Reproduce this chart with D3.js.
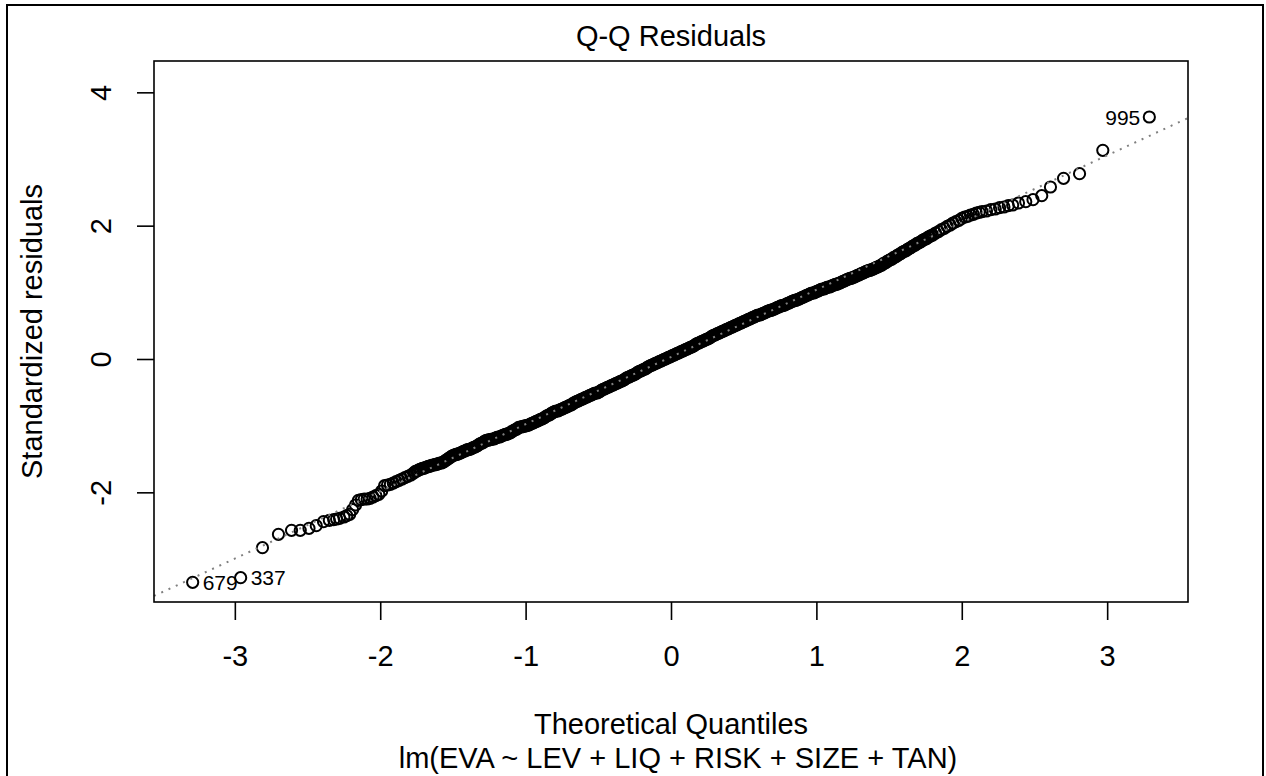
<!DOCTYPE html>
<html>
<head>
<meta charset="utf-8">
<script src="https://cdn.jsdelivr.net/npm/d3@7"></script>
<style>
  body { margin: 0; background: #fff; }
  text { font-family: 'Liberation Sans', Arial, sans-serif; fill: #000; }
</style>
</head>
<body>
<div id="chart"></div>
<script>
// [theoretical quantile, standardized residual]
const lowerTail = [
  [-3.29,-3.35],[-2.96,-3.28],[-2.81,-2.83],[-2.70,-2.63],[-2.61,-2.57],[-2.55,-2.57],[-2.49,-2.54],
  [-2.44,-2.50],[-2.39,-2.44],[-2.35,-2.42],[-2.32,-2.41],[-2.30,-2.40],[-2.28,-2.39],[-2.25,-2.37],
  [-2.23,-2.35],[-2.21,-2.33],[-2.19,-2.26],[-2.17,-2.19],[-2.15,-2.12],[-2.13,-2.11],[-2.11,-2.10],
  [-2.09,-2.10],[-2.07,-2.09],[-2.05,-2.07],[-2.03,-2.05],[-2.01,-2.03],[-1.99,-1.98],[-1.97,-1.90],
  [-1.95,-1.89],[-1.93,-1.88],[-1.91,-1.86],[-1.89,-1.84],[-1.87,-1.82],[-1.85,-1.80],[-1.83,-1.78],
  [-1.81,-1.76],[-1.79,-1.74],[-1.77,-1.71]
]

const middle = [
  [-1.76,-1.69],[-1.75,-1.68],[-1.74,-1.67],[-1.73,-1.66],[-1.72,-1.65],[-1.71,-1.64],[-1.70,-1.64],
  [-1.69,-1.63],[-1.68,-1.62],[-1.67,-1.61],[-1.66,-1.61],[-1.65,-1.60],[-1.64,-1.59],[-1.63,-1.59],
  [-1.62,-1.58],[-1.61,-1.58],[-1.60,-1.57],[-1.59,-1.56],[-1.58,-1.56],[-1.57,-1.55],[-1.56,-1.54],
  [-1.55,-1.52],[-1.54,-1.51],[-1.53,-1.49],[-1.52,-1.48],[-1.51,-1.46],[-1.50,-1.45],[-1.49,-1.44],
  [-1.48,-1.43],[-1.47,-1.43],[-1.46,-1.42],[-1.45,-1.41],[-1.44,-1.40],[-1.43,-1.39],[-1.42,-1.38],
  [-1.41,-1.37],[-1.40,-1.36],[-1.39,-1.36],[-1.38,-1.35],[-1.37,-1.34],[-1.36,-1.33],[-1.35,-1.32],
  [-1.34,-1.31],[-1.33,-1.30],[-1.32,-1.28],[-1.31,-1.27],[-1.30,-1.26],[-1.29,-1.25],[-1.28,-1.23],
  [-1.27,-1.22],[-1.26,-1.22],[-1.25,-1.21],[-1.24,-1.21],[-1.23,-1.20],[-1.22,-1.20],[-1.21,-1.19],
  [-1.20,-1.18],[-1.19,-1.17],[-1.18,-1.17],[-1.17,-1.16],[-1.16,-1.15],[-1.15,-1.14],[-1.14,-1.13],
  [-1.13,-1.13],[-1.12,-1.12],[-1.11,-1.11],[-1.10,-1.10],[-1.09,-1.08],[-1.08,-1.07],[-1.07,-1.06],
  [-1.06,-1.05],[-1.05,-1.03],[-1.04,-1.02],[-1.03,-1.02],[-1.02,-1.01],[-1.01,-1.01],[-1.00,-1.00],
  [-0.99,-1.00],[-0.98,-0.99],[-0.97,-0.98],[-0.96,-0.97],[-0.95,-0.96],[-0.94,-0.95],[-0.93,-0.94],
  [-0.92,-0.93],[-0.91,-0.92],[-0.90,-0.91],[-0.89,-0.90],[-0.88,-0.89],[-0.87,-0.88],[-0.86,-0.86],
  [-0.85,-0.85],[-0.84,-0.84],[-0.83,-0.83],[-0.82,-0.81],[-0.81,-0.80],[-0.80,-0.79],[-0.79,-0.78],
  [-0.78,-0.78],[-0.77,-0.77],[-0.76,-0.76],[-0.75,-0.75],[-0.74,-0.74],[-0.73,-0.73],[-0.72,-0.72],
  [-0.71,-0.71],[-0.70,-0.70],[-0.69,-0.69],[-0.68,-0.68],[-0.67,-0.66],[-0.66,-0.65],[-0.65,-0.64],
  [-0.64,-0.63],[-0.63,-0.62],[-0.62,-0.61],[-0.61,-0.60],[-0.60,-0.59],[-0.59,-0.58],[-0.58,-0.57],
  [-0.57,-0.56],[-0.56,-0.55],[-0.55,-0.54],[-0.54,-0.53],[-0.53,-0.52],[-0.52,-0.51],[-0.51,-0.51],
  [-0.50,-0.50],[-0.49,-0.49],[-0.48,-0.47],[-0.47,-0.46],[-0.46,-0.45],[-0.45,-0.44],[-0.44,-0.43],
  [-0.43,-0.42],[-0.42,-0.41],[-0.41,-0.40],[-0.40,-0.39],[-0.39,-0.38],[-0.38,-0.37],[-0.37,-0.36],
  [-0.36,-0.35],[-0.35,-0.34],[-0.34,-0.33],[-0.33,-0.32],[-0.32,-0.31],[-0.31,-0.29],[-0.30,-0.28],
  [-0.29,-0.27],[-0.28,-0.26],[-0.27,-0.25],[-0.26,-0.24],[-0.25,-0.23],[-0.24,-0.22],[-0.23,-0.20],
  [-0.22,-0.19],[-0.21,-0.18],[-0.20,-0.17],[-0.19,-0.16],[-0.18,-0.15],[-0.17,-0.14],[-0.16,-0.12],
  [-0.15,-0.11],[-0.14,-0.10],[-0.13,-0.09],[-0.12,-0.08],[-0.11,-0.07],[-0.10,-0.06],[-0.09,-0.05],
  [-0.08,-0.04],[-0.07,-0.03],[-0.06,-0.02],[-0.05,-0.01],[-0.04,0.00],[-0.03,0.01],[-0.02,0.02],
  [-0.01,0.03],[0.00,0.04],[0.01,0.05],[0.02,0.06],[0.03,0.07],[0.04,0.08],[0.05,0.09],
  [0.06,0.10],[0.07,0.11],[0.08,0.12],[0.09,0.13],[0.10,0.14],[0.11,0.15],[0.12,0.16],
  [0.13,0.17],[0.14,0.18],[0.15,0.19],[0.16,0.20],[0.17,0.22],[0.18,0.23],[0.19,0.24],
  [0.20,0.25],[0.21,0.26],[0.22,0.27],[0.23,0.28],[0.24,0.29],[0.25,0.30],[0.26,0.31],
  [0.27,0.32],[0.28,0.34],[0.29,0.35],[0.30,0.36],[0.31,0.37],[0.32,0.38],[0.33,0.39],
  [0.34,0.40],[0.35,0.41],[0.36,0.42],[0.37,0.43],[0.38,0.44],[0.39,0.45],[0.40,0.46],
  [0.41,0.47],[0.42,0.48],[0.43,0.49],[0.44,0.50],[0.45,0.51],[0.46,0.52],[0.47,0.53],
  [0.48,0.54],[0.49,0.55],[0.50,0.56],[0.51,0.57],[0.52,0.58],[0.53,0.59],[0.54,0.60],
  [0.55,0.61],[0.56,0.62],[0.57,0.63],[0.58,0.64],[0.59,0.65],[0.60,0.66],[0.61,0.66],
  [0.62,0.67],[0.63,0.68],[0.64,0.69],[0.65,0.70],[0.66,0.71],[0.67,0.72],[0.68,0.73],
  [0.69,0.73],[0.70,0.74],[0.71,0.75],[0.72,0.76],[0.73,0.77],[0.74,0.78],[0.75,0.79],
  [0.76,0.80],[0.77,0.80],[0.78,0.81],[0.79,0.82],[0.80,0.83],[0.81,0.84],[0.82,0.85],
  [0.83,0.86],[0.84,0.87],[0.85,0.88],[0.86,0.88],[0.87,0.89],[0.88,0.90],[0.89,0.91],
  [0.90,0.92],[0.91,0.93],[0.92,0.94],[0.93,0.95],[0.94,0.96],[0.95,0.97],[0.96,0.98],
  [0.97,0.99],[0.98,0.99],[0.99,1.00],[1.00,1.01],[1.01,1.02],[1.02,1.03],[1.03,1.04],
  [1.04,1.05],[1.05,1.05],[1.06,1.06],[1.07,1.07],[1.08,1.08],[1.09,1.08],[1.10,1.09],
  [1.11,1.10],[1.12,1.11],[1.13,1.12],[1.14,1.12],[1.15,1.13],[1.16,1.14],[1.17,1.15],
  [1.18,1.16],[1.19,1.17],[1.20,1.18],[1.21,1.19],[1.22,1.20],[1.23,1.21],[1.24,1.21],
  [1.25,1.22],[1.26,1.23],[1.27,1.24],[1.28,1.25],[1.29,1.26],[1.30,1.27],[1.31,1.28],
  [1.32,1.29],[1.33,1.30],[1.34,1.31],[1.35,1.32],[1.36,1.33],[1.37,1.33],[1.38,1.34],
  [1.39,1.35],[1.40,1.36],[1.41,1.37],[1.42,1.38],[1.43,1.39],[1.44,1.40],[1.45,1.41],
  [1.46,1.43],[1.47,1.44],[1.48,1.45],[1.49,1.47],[1.50,1.48],[1.51,1.49],[1.52,1.50],
  [1.53,1.52],[1.54,1.53],[1.55,1.54],[1.56,1.56],[1.57,1.57],[1.58,1.58],[1.59,1.60],
  [1.60,1.61],[1.61,1.62],[1.62,1.63],[1.63,1.65],[1.64,1.66],[1.65,1.67],[1.66,1.69],
  [1.67,1.70],[1.68,1.71],[1.69,1.73],[1.70,1.74],[1.71,1.75],[1.72,1.76],[1.73,1.78],
  [1.74,1.79],[1.75,1.80],[1.76,1.81],[1.77,1.83],[1.78,1.84],[1.79,1.85],[1.80,1.86]
]

const upperTail = [
  [1.82,1.89],[1.84,1.91],[1.86,1.94],[1.88,1.96],[1.90,1.99],[1.92,2.01],[1.94,2.04],[1.96,2.06],
  [1.98,2.08],[2.00,2.11],[2.02,2.13],[2.04,2.14],[2.06,2.16],[2.08,2.17],[2.10,2.19],[2.12,2.20],
  [2.14,2.21],[2.17,2.22],[2.20,2.24],[2.23,2.25],[2.26,2.27],[2.29,2.28],[2.32,2.30],[2.35,2.31],
  [2.39,2.34],[2.44,2.36],[2.49,2.39],[2.55,2.45],[2.61,2.58],[2.70,2.71],[2.81,2.78],[2.97,3.13],
  [3.29,3.63]
]

// observation numbers R prints next to the extreme points
const labelIds = ['679', '337', '995']
const labelPoints = [[-3.29,-3.35], [-2.96,-3.28], [3.29,3.63]]

// qqline through the quartiles
const lineIntercept = 0.03
const lineSlope = 1.008

const xTicks = [-3, -2, -1, 0, 1, 2, 3]
const yTicks = [-2, 0, 2, 4]
const xDomain = [-3.556, 3.556]
const yDomain = [-3.645, 4.47]

const width = 1266
const height = 776
const box = {left: 154, right: 1188, top: 61, bottom: 602}
const fontSize = 29

const svg = d3.select('#chart')
  .append('svg')
  .attr('width', width)
  .attr('height', height)

svg.append('rect')
  .attr('width', width).attr('height', height)
  .attr('fill', '#fff')

// device frame
svg.append('rect')
  .attr('x', 7).attr('y', 5)
  .attr('width', 1256).attr('height', 800)
  .attr('fill', 'none')
  .attr('stroke', '#000')
  .attr('stroke-width', 2)

const xs = d3.scaleLinear().domain(xDomain).range([box.left, box.right])
const ys = d3.scaleLinear().domain(yDomain).range([box.bottom, box.top])

// points
const points = lowerTail.concat(middle, upperTail)
svg.append('g')
  .selectAll('circle')
  .data(points)
  .enter()
  .append('circle')
  .attr('cx', (d) => xs(d[0]))
  .attr('cy', (d) => ys(d[1]))
  .attr('r', 5.6)
  .attr('fill', 'none')
  .attr('stroke', '#000')
  .attr('stroke-width', 2)

// dotted reference line, drawn over the points like qqline does
svg.append('path')
  .attr('d', d3.line()([
    [xs(xDomain[0]), ys(lineIntercept + lineSlope * xDomain[0])],
    [xs(xDomain[1]), ys(lineIntercept + lineSlope * xDomain[1])]
  ]))
  .attr('stroke', '#808080')
  .attr('stroke-width', 2)
  .attr('stroke-dasharray', '2 6')
  .attr('fill', 'none')

// point labels
svg.append('g')
  .selectAll('text')
  .data(labelPoints)
  .enter()
  .append('text')
  .attr('x', (d) => d[0] < 0 ? xs(d[0]) + 10 : xs(d[0]) - 9)
  .attr('y', (d) => ys(d[1]))
  .attr('dy', '0.36em')
  .attr('text-anchor', (d) => d[0] < 0 ? 'start' : 'end')
  .style('font-size', '21px')
  .text((d, i) => labelIds[i])

// plot box
svg.append('rect')
  .attr('x', box.left).attr('y', box.top)
  .attr('width', box.right - box.left)
  .attr('height', box.bottom - box.top)
  .attr('fill', 'none')
  .attr('stroke', '#000')
  .attr('stroke-width', 1.6)

// axes
const xAxis = svg.append('g')
  .attr('transform', `translate(0,${box.bottom})`)
  .call(d3.axisBottom(xs).tickValues(xTicks).tickSize(18).tickFormat(d3.format('d')))
const yAxis = svg.append('g')
  .attr('transform', `translate(${box.left},0)`)
  .call(d3.axisLeft(ys).tickValues(yTicks).tickSize(17).tickFormat(d3.format('d')))

xAxis.select('.domain').remove()
yAxis.select('.domain').remove()
svg.selectAll('.tick line')
  .attr('stroke', '#000')
  .attr('stroke-width', 1.6)
svg.selectAll('.tick text')
  .attr('fill', '#000')
  .style('font-family', "'Liberation Sans', Arial, sans-serif")
  .style('font-size', fontSize + 'px')
  .text((d) => d < 0 ? '-' + Math.abs(d) : d)
xAxis.selectAll('.tick text')
  .attr('y', 64)
  .attr('dy', 0)
yAxis.selectAll('.tick text')
  .attr('x', 0)
  .attr('dy', 0)
  .attr('text-anchor', 'middle')
  .attr('transform', 'translate(-43,0) rotate(-90)')

// titles
svg.append('text')
  .attr('x', 671).attr('y', 46)
  .attr('text-anchor', 'middle')
  .style('font-size', fontSize + 'px')
  .text('Q-Q Residuals')
svg.append('text')
  .attr('x', 671).attr('y', 734)
  .attr('text-anchor', 'middle')
  .style('font-size', fontSize + 'px')
  .text('Theoretical Quantiles')
svg.append('text')
  .attr('x', 678).attr('y', 768)
  .attr('text-anchor', 'middle')
  .style('font-size', fontSize + 'px')
  .text('lm(EVA ~ LEV + LIQ + RISK + SIZE + TAN)')
svg.append('text')
  .attr('transform', `translate(42,${(box.top + box.bottom) / 2}) rotate(-90)`)
  .attr('text-anchor', 'middle')
  .style('font-size', fontSize + 'px')
  .text('Standardized residuals')
</script>
</body>
</html>
